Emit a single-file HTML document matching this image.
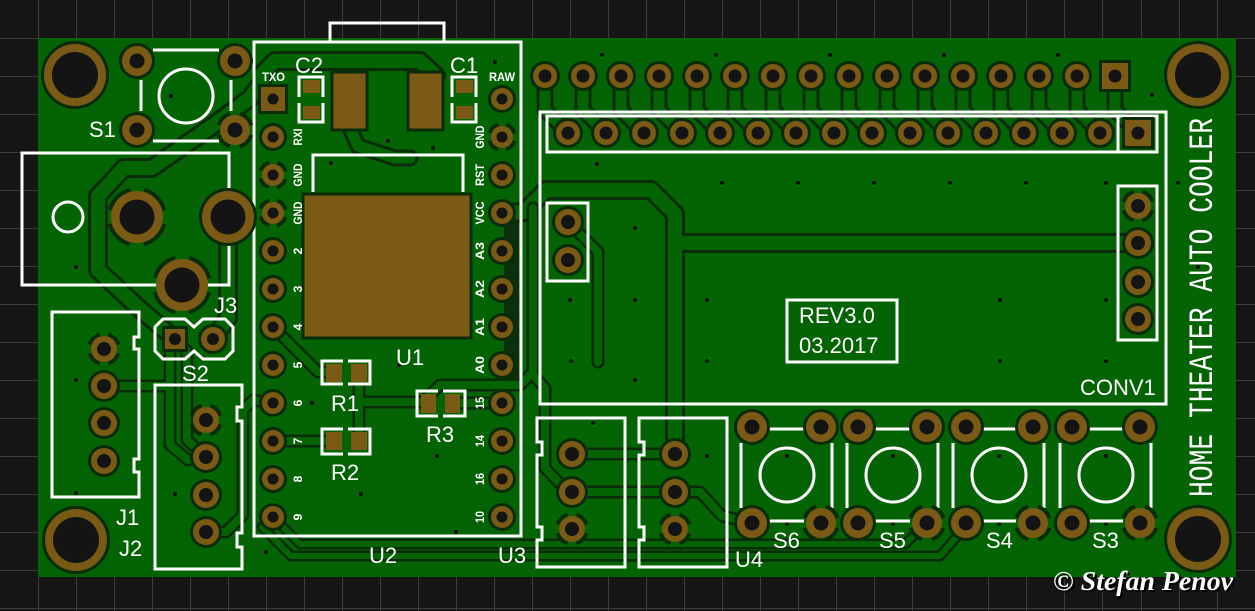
<!DOCTYPE html>
<html><head><meta charset="utf-8"><style>
html,body{margin:0;padding:0;background:#151515;}
svg{display:block;}
.s{font-family:"Liberation Sans",sans-serif;fill:#fff;font-size:22px;}
.p{font-family:"Liberation Sans",sans-serif;fill:#fff;font-size:12px;font-weight:bold;}
</style></head><body>
<svg width="1255" height="611" viewBox="0 0 1255 611" xmlns="http://www.w3.org/2000/svg">
<defs>
 <g id="pU"><circle r="14" fill="#0a2c0a"/><circle r="11" fill="#7a5a14"/><circle r="5.5" fill="#141414"/></g>
 <g id="pUt"><circle r="13" fill="none" stroke="#0a2c0a" stroke-width="4" stroke-dasharray="12.4 8" stroke-dashoffset="16.4"/><circle r="11" fill="#7a5a14"/><circle r="5.5" fill="#141414"/></g>
 <g id="pH"><circle r="15" fill="#0a2c0a"/><circle r="12" fill="#7a5a14"/><circle r="6.5" fill="#141414"/></g>
 <g id="pC"><circle r="16" fill="#0a2c0a"/><circle r="13" fill="#7a5a14"/><circle r="7" fill="#141414"/></g>
 <g id="pCt"><circle r="15" fill="none" stroke="#0a2c0a" stroke-width="4" stroke-dasharray="14.56 9" stroke-dashoffset="19.06"/><circle r="13" fill="#7a5a14"/><circle r="7" fill="#141414"/></g>
 <g id="pS"><circle r="18" fill="#0a2c0a"/><circle r="15" fill="#7a5a14"/><circle r="7.5" fill="#141414"/></g>
 <g id="pSt"><circle r="17" fill="none" stroke="#0a2c0a" stroke-width="4" stroke-dasharray="16.7 10" stroke-dashoffset="21.7"/><circle r="15" fill="#7a5a14"/><circle r="7.5" fill="#141414"/></g>
 <g id="pJ"><circle r="29" fill="#0a2c0a"/><circle r="26" fill="#7a5a14"/><circle r="17.5" fill="#141414"/></g>
 <g id="pJt"><circle r="28" fill="none" stroke="#0a2c0a" stroke-width="4" stroke-dasharray="30 14" stroke-dashoffset="37"/><circle r="26" fill="#7a5a14"/><circle r="17.5" fill="#141414"/></g>
 <g id="pM"><circle r="34" fill="#0a2c0a"/><circle r="31" fill="#7a5a14"/><circle r="23" fill="#141414"/></g>
 <path id="hdr" d="M545,76V110L568,133M583,76V110L606,133M621,76V110L644,133M659,76V110L682,133M697,76V110L720,133M735,76V110L758,133M773,76V110L796,133M811,76V110L834,133M849,76V110L872,133M887,76V110L910,133M925,76V110L948,133M963,76V110L986,133M1001,76V110L1024,133M1039,76V110L1062,133M1077,76V110L1100,133M1115,76V110L1138,133"/>
 <path id="big" d="M175,339L141,310L98,270L98,196L124,168L152,168L218,122L250,98L262,82L262,74L275,61L420,61L436,76M228,217L228,318L213,339M675,454L675,214L651,190L546,190L524,212L502,213M675,243L1138,243"/>
 <path id="sig" d="M533,208L533,375L545,388L545,468L568,492L700,492L722,516L752,523M568,222L598,252L598,362M104,386L170,386L170,445L188,460L206,457M170,386L170,332M175,339L187,351L187,440L206,457M206,532L226,532L243,515L243,410L253,400L273,403M273,327L318,372L334,372M273,441L334,441M359,372L359,441M359,402L428,402M454,403L502,403M428,397L440,385L520,385L533,372M572,454L675,454"/>
 <path id="reg" d="M350,128L358,146L395,158L410,158"/>
 <path id="bot" d="M273,517L300,544L905,544L927,523M262,527L291,556L940,556L966,526"/>
</defs>

<!-- background grid -->
<rect width="1255" height="611" fill="#151515"/>
<path stroke="#3c3c3c" stroke-width="1" fill="none" d="M38.5,0V611M76.5,0V611M114.5,0V611M152.5,0V611M190.5,0V611M228.5,0V611M266.5,0V611M304.5,0V611M342.5,0V611M380.5,0V611M418.5,0V611M456.5,0V611M494.5,0V611M532.5,0V611M570.5,0V611M608.5,0V611M646.5,0V611M684.5,0V611M722.5,0V611M760.5,0V611M798.5,0V611M836.5,0V611M874.5,0V611M912.5,0V611M950.5,0V611M988.5,0V611M1026.5,0V611M1064.5,0V611M1102.5,0V611M1141.5,0V611M1179.5,0V611M1217.5,0V611M0,38.5H1255M0,76.5H1255M0,114.5H1255M0,152.5H1255M0,190.5H1255M0,228.5H1255M0,266.5H1255M0,304.5H1255M0,342.5H1255M0,380.5H1255M0,418.5H1255M0,456.5H1255M0,494.5H1255M0,532.5H1255M0,570.5H1255M0,608.5H1255"/>

<!-- board -->
<rect x="38" y="38" width="1198" height="539" fill="#046404"/>
<rect x="504" y="222" width="15" height="158" fill="#0b300b"/>

<!-- traces -->
<g fill="none" stroke-linejoin="round" stroke-linecap="round">
 <use href="#hdr" stroke="#0a2c0a" stroke-width="17"/>
 <use href="#hdr" stroke="#046404" stroke-width="11"/>
 <use href="#big" stroke="#0a2c0a" stroke-width="20"/>
 <use href="#big" stroke="#046404" stroke-width="14"/>
 <use href="#sig" stroke="#0a2c0a" stroke-width="13"/>
 <use href="#sig" stroke="#046404" stroke-width="8"/>
 <use href="#reg" stroke="#0a2c0a" stroke-width="17"/>
 <use href="#reg" stroke="#046404" stroke-width="11"/>
 <use href="#bot" stroke="#0a2c0a" stroke-width="11"/>
 <use href="#bot" stroke="#046404" stroke-width="6"/>
</g>

<!-- vias -->
<g fill="#111">
 <circle cx="171" cy="96" r="2"/><circle cx="76" cy="267" r="2"/><circle cx="331" cy="163" r="2"/><circle cx="388" cy="141" r="2"/><circle cx="433" cy="148" r="2"/><circle cx="495" cy="62" r="2"/>
 <circle cx="76" cy="380" r="2"/><circle cx="76" cy="493" r="2"/><circle cx="175" cy="494" r="2"/><circle cx="266" cy="552" r="2"/><circle cx="312" cy="403" r="2"/><circle cx="361" cy="494" r="2"/>
 <circle cx="399" cy="365" r="2"/><circle cx="437" cy="456" r="2"/><circle cx="456" cy="532" r="2"/>
 <circle cx="602" cy="55" r="2"/><circle cx="716" cy="55" r="2"/><circle cx="830" cy="55" r="2"/><circle cx="944" cy="55" r="2"/><circle cx="1058" cy="55" r="2"/><circle cx="1152" cy="95" r="2"/>
 <circle cx="597" cy="164" r="2"/><circle cx="722" cy="183" r="2"/><circle cx="798" cy="183" r="2"/><circle cx="874" cy="183" r="2"/><circle cx="950" cy="183" r="2"/><circle cx="1026" cy="183" r="2"/><circle cx="1106" cy="183" r="2"/><circle cx="1178" cy="183" r="2"/>
 <circle cx="635" cy="228" r="2"/><circle cx="570" cy="300" r="2"/><circle cx="635" cy="300" r="2"/><circle cx="707" cy="300" r="2"/><circle cx="1000" cy="300" r="2"/><circle cx="1106" cy="300" r="2"/><circle cx="1198" cy="267" r="2"/>
 <circle cx="571" cy="361" r="2"/><circle cx="635" cy="380" r="2"/><circle cx="707" cy="361" r="2"/><circle cx="1000" cy="361" r="2"/><circle cx="1106" cy="361" r="2"/>
 <circle cx="593" cy="423" r="2"/><circle cx="707" cy="456" r="2"/><circle cx="787" cy="456" r="2"/><circle cx="893" cy="456" r="2"/><circle cx="999" cy="456" r="2"/><circle cx="1106" cy="456" r="2"/><circle cx="1198" cy="456" r="2"/>
 <circle cx="787" cy="524" r="2"/><circle cx="893" cy="524" r="2"/><circle cx="999" cy="524" r="2"/><circle cx="1106" cy="524" r="2"/>
</g>

<!-- SMD copper -->
<g fill="#7a5a14" stroke="#0a2c0a" stroke-width="3">
 <rect x="303" y="194" width="168" height="144"/>
 <rect x="332" y="72" width="35" height="58"/>
 <rect x="408" y="72" width="35" height="58"/>
</g>
<g fill="#7a5a14">
 <rect x="303" y="80" width="17" height="13"/><rect x="303" y="106" width="17" height="13"/>
 <rect x="456" y="80" width="17" height="13"/><rect x="456" y="106" width="17" height="13"/>
 <rect x="326" y="364" width="16" height="18"/><rect x="351" y="364" width="16" height="18"/>
 <rect x="326" y="432" width="16" height="18"/><rect x="351" y="432" width="16" height="18"/>
 <rect x="421" y="394" width="15" height="19"/><rect x="445" y="394" width="15" height="19"/>
</g>

<!-- silkscreen shapes -->
<g fill="none" stroke="#fff" stroke-width="3">
 <!-- S1 -->
 <path d="M153,50H219M153,141H219M141,80V111M231,80V111"/>
 <circle cx="186" cy="96" r="27"/>
 <!-- J3 -->
 <rect x="22" y="153" width="207" height="132"/>
 <circle cx="68" cy="217" r="15"/>
 <!-- S2 -->
 <path d="M163,319L185,319L194,327L203,319L225,319L233,327L233,351L225,359L203,359L194,351L185,359L163,359L155,351L155,327Z"/>
 <!-- J1 J2 -->
 <path d="M52,312H139V337H134V349H139V459H134V472H139V497H52Z"/>
 <path d="M155,385H242V407H237V421H242V533H237V547H242V569H155Z"/>
 <!-- U2 -->
 <rect x="254" y="42" width="267" height="494"/>
 <path d="M330,42V23H444V42"/>
 <path d="M313,192V155H463V192"/>
 <path d="M299,97V77H323V97M299,103V122H323V103"/>
 <path d="M452,97V77H476V97M452,103V122H476V103"/>
 <path d="M343,361H322V384H343M348,361H370V384H348"/>
 <path d="M343,429H322V454H343M348,429H370V454H348"/>
 <path d="M438,391H417V416H438M443,391H465V416H443"/>
 <!-- U3 U4 -->
 <path d="M537,418H625V567H537V540H542V527H537V455H542V442H537Z"/>
 <path d="M639,418H727V567H639V540H644V527H639V455H644V442H639Z"/>
 <!-- CONV1 -->
 <rect x="540" y="112" width="626" height="292"/>
 <rect x="547" y="116" width="610" height="36"/>
 <path d="M1118,116V152"/>
 <rect x="547" y="203" width="41" height="78"/>
 <rect x="1118" y="186" width="39" height="154"/>
 <rect x="787" y="300" width="110" height="62"/>
 <!-- switches S6 S5 S4 S3 -->
 <path d="M769,429H804M769,521H804M741,443V508M832,443V508"/>
 <circle cx="787" cy="475" r="27"/>
 <path d="M875,429H910M875,521H910M847,443V508M938,443V508"/>
 <circle cx="893" cy="475" r="27"/>
 <path d="M981,429H1016M981,521H1016M953,443V508M1044,443V508"/>
 <circle cx="999" cy="475" r="27"/>
 <path d="M1088,429H1123M1088,521H1123M1060,443V508M1151,443V508"/>
 <circle cx="1106" cy="475" r="27"/>
</g>

<!-- through-hole pads -->
<use href="#pM" x="75" y="75"/><use href="#pM" x="1198" y="75"/><use href="#pM" x="76" y="540"/><use href="#pM" x="1198" y="539"/>
<use href="#pS" x="137" y="61"/><use href="#pS" x="235" y="61"/><use href="#pS" x="137" y="130"/><use href="#pSt" x="235" y="130"/>
<use href="#pJt" x="137" y="217"/><use href="#pJ" x="228" y="217"/><use href="#pJt" x="182" y="285"/>
<rect x="162" y="326" width="26" height="26" fill="#0a2c0a"/><rect x="165" y="329" width="20" height="20" fill="#7a5a14"/><circle cx="175" cy="339" r="6" fill="#141414"/>
<circle cx="213" cy="339" r="15" fill="#0a2c0a"/><circle cx="213" cy="339" r="12" fill="#7a5a14"/><circle cx="213" cy="339" r="6" fill="#141414"/>
<use href="#pCt" x="104" y="349"/><use href="#pC" x="104" y="386"/><use href="#pC" x="104" y="423"/><use href="#pC" x="104" y="461"/>
<use href="#pCt" x="206" y="420"/><use href="#pC" x="206" y="457"/><use href="#pC" x="206" y="495"/><use href="#pC" x="206" y="532"/>
<!-- U2 pads -->
<rect x="258" y="84" width="30" height="30" fill="#0a2c0a"/><rect x="261" y="87" width="24" height="24" fill="#7a5a14"/><circle cx="273" cy="99" r="5.5" fill="#141414"/>
<use href="#pU" x="273" y="137"/><use href="#pUt" x="273" y="175"/><use href="#pUt" x="273" y="213"/><use href="#pU" x="273" y="251"/><use href="#pU" x="273" y="289"/><use href="#pU" x="273" y="327"/><use href="#pU" x="273" y="365"/><use href="#pU" x="273" y="403"/><use href="#pU" x="273" y="441"/><use href="#pU" x="273" y="479"/><use href="#pU" x="273" y="517"/>
<use href="#pU" x="502" y="99"/><use href="#pUt" x="502" y="137"/><use href="#pU" x="502" y="175"/><use href="#pU" x="502" y="213"/><use href="#pU" x="502" y="251"/><use href="#pU" x="502" y="289"/><use href="#pU" x="502" y="327"/><use href="#pU" x="502" y="365"/><use href="#pU" x="502" y="403"/><use href="#pU" x="502" y="441"/><use href="#pU" x="502" y="479"/><use href="#pU" x="502" y="517"/>
<!-- header top row -->
<use href="#pH" x="545" y="76"/><use href="#pH" x="583" y="76"/><use href="#pH" x="621" y="76"/><use href="#pH" x="659" y="76"/><use href="#pH" x="697" y="76"/><use href="#pH" x="735" y="76"/><use href="#pH" x="773" y="76"/><use href="#pH" x="811" y="76"/><use href="#pH" x="849" y="76"/><use href="#pH" x="887" y="76"/><use href="#pH" x="925" y="76"/><use href="#pH" x="963" y="76"/><use href="#pH" x="1001" y="76"/><use href="#pH" x="1039" y="76"/><use href="#pH" x="1077" y="76"/>
<rect x="1099" y="60" width="32" height="32" fill="#0a2c0a"/><rect x="1102" y="63" width="26" height="26" fill="#7a5a14"/><circle cx="1115" cy="76" r="6.5" fill="#141414"/>
<!-- header bottom row -->
<use href="#pH" x="568" y="133"/><use href="#pH" x="606" y="133"/><use href="#pH" x="644" y="133"/><use href="#pH" x="682" y="133"/><use href="#pH" x="720" y="133"/><use href="#pH" x="758" y="133"/><use href="#pH" x="796" y="133"/><use href="#pH" x="834" y="133"/><use href="#pH" x="872" y="133"/><use href="#pH" x="910" y="133"/><use href="#pH" x="948" y="133"/><use href="#pH" x="986" y="133"/><use href="#pH" x="1024" y="133"/><use href="#pH" x="1062" y="133"/><use href="#pH" x="1100" y="133"/>
<rect x="1122" y="117" width="32" height="32" fill="#0a2c0a"/><rect x="1125" y="120" width="26" height="26" fill="#7a5a14"/><circle cx="1138" cy="133" r="6.5" fill="#141414"/>
<!-- conv connectors -->
<use href="#pC" x="568" y="222"/><use href="#pC" x="568" y="260"/>
<use href="#pCt" x="1138" y="206"/><use href="#pC" x="1138" y="243"/><use href="#pC" x="1138" y="282"/><use href="#pC" x="1138" y="319"/>
<!-- U3 U4 -->
<use href="#pC" x="572" y="454"/><use href="#pC" x="572" y="492"/><use href="#pCt" x="572" y="529"/>
<use href="#pC" x="675" y="454"/><use href="#pC" x="675" y="492"/><use href="#pCt" x="675" y="529"/>
<!-- switches -->
<use href="#pS" x="752" y="427"/><use href="#pS" x="821" y="427"/><use href="#pS" x="752" y="523"/><use href="#pSt" x="821" y="523"/>
<use href="#pS" x="858" y="427"/><use href="#pS" x="927" y="427"/><use href="#pS" x="858" y="523"/><use href="#pSt" x="927" y="523"/>
<use href="#pS" x="966" y="427"/><use href="#pS" x="1033" y="427"/><use href="#pS" x="966" y="523"/><use href="#pSt" x="1033" y="523"/>
<use href="#pS" x="1072" y="427"/><use href="#pS" x="1140" y="427"/><use href="#pS" x="1072" y="523"/><use href="#pSt" x="1140" y="523"/>

<!-- labels -->
<text class="s" x="89" y="137" font-size="21">S1</text>
<text class="s" x="214" y="313">J3</text>
<text class="s" x="182" y="381">S2</text>
<text class="s" x="116" y="525">J1</text>
<text class="s" x="119" y="556">J2</text>
<text class="s" x="295" y="73">C2</text>
<text class="s" x="450" y="73">C1</text>
<text class="s" x="396" y="365">U1</text>
<text class="s" x="331" y="411">R1</text>
<text class="s" x="331" y="480">R2</text>
<text class="s" x="426" y="442">R3</text>
<text class="s" x="369" y="563">U2</text>
<text class="s" x="498" y="563">U3</text>
<text class="s" x="735" y="567">U4</text>
<text class="s" x="773" y="548">S6</text>
<text class="s" x="879" y="548">S5</text>
<text class="s" x="986" y="548">S4</text>
<text class="s" x="1092" y="548">S3</text>
<text class="s" x="1080" y="395">CONV1</text>
<text class="s" x="799" y="323">REV3.0</text>
<text class="s" x="799" y="353">03.2017</text>

<!-- pin labels -->
<text class="p" x="262" y="81" textLength="23" lengthAdjust="spacingAndGlyphs">TXO</text>
<text class="p" x="489" y="81" textLength="26" lengthAdjust="spacingAndGlyphs">RAW</text>
<g class="p" text-anchor="middle">
 <text transform="translate(302,137) rotate(-90)" textLength="17" lengthAdjust="spacingAndGlyphs">RXI</text>
 <text transform="translate(302,175) rotate(-90)" textLength="23" lengthAdjust="spacingAndGlyphs">GND</text>
 <text transform="translate(302,213) rotate(-90)" textLength="23" lengthAdjust="spacingAndGlyphs">GND</text>
 <text transform="translate(302,251) rotate(-90)">2</text>
 <text transform="translate(302,289) rotate(-90)">3</text>
 <text transform="translate(302,327) rotate(-90)">4</text>
 <text transform="translate(302,365) rotate(-90)">5</text>
 <text transform="translate(302,403) rotate(-90)">6</text>
 <text transform="translate(302,441) rotate(-90)">7</text>
 <text transform="translate(302,479) rotate(-90)">8</text>
 <text transform="translate(302,517) rotate(-90)">9</text>
 <text transform="translate(484,137) rotate(-90)" textLength="23" lengthAdjust="spacingAndGlyphs">GND</text>
 <text transform="translate(484,175) rotate(-90)" textLength="22" lengthAdjust="spacingAndGlyphs">RST</text>
 <text transform="translate(484,213) rotate(-90)" textLength="23" lengthAdjust="spacingAndGlyphs">VCC</text>
 <text transform="translate(484,251) rotate(-90)" textLength="18" lengthAdjust="spacingAndGlyphs">A3</text>
 <text transform="translate(484,289) rotate(-90)" textLength="18" lengthAdjust="spacingAndGlyphs">A2</text>
 <text transform="translate(484,327) rotate(-90)" textLength="18" lengthAdjust="spacingAndGlyphs">A1</text>
 <text transform="translate(484,365) rotate(-90)" textLength="18" lengthAdjust="spacingAndGlyphs">A0</text>
 <text transform="translate(484,403) rotate(-90)" textLength="12" lengthAdjust="spacingAndGlyphs">15</text>
 <text transform="translate(484,441) rotate(-90)" textLength="12" lengthAdjust="spacingAndGlyphs">14</text>
 <text transform="translate(484,479) rotate(-90)" textLength="12" lengthAdjust="spacingAndGlyphs">16</text>
 <text transform="translate(484,517) rotate(-90)" textLength="12" lengthAdjust="spacingAndGlyphs">10</text>
</g>

<!-- vertical title -->
<text transform="translate(1212,497) rotate(-90)" font-family="Liberation Mono, DejaVu Sans Mono, monospace" font-size="34" fill="#fff" textLength="379" lengthAdjust="spacingAndGlyphs">HOME THEATER AUTO COOLER</text>

<!-- copyright -->
<text x="1055" y="592" font-family="Liberation Serif, serif" font-style="italic" font-weight="bold" font-size="27" fill="#000" textLength="180" lengthAdjust="spacingAndGlyphs">© Stefan Penov</text>
<text x="1053" y="590" font-family="Liberation Serif, serif" font-style="italic" font-weight="bold" font-size="27" fill="#fff" textLength="180" lengthAdjust="spacingAndGlyphs">© Stefan Penov</text>
</svg>
</body></html>
